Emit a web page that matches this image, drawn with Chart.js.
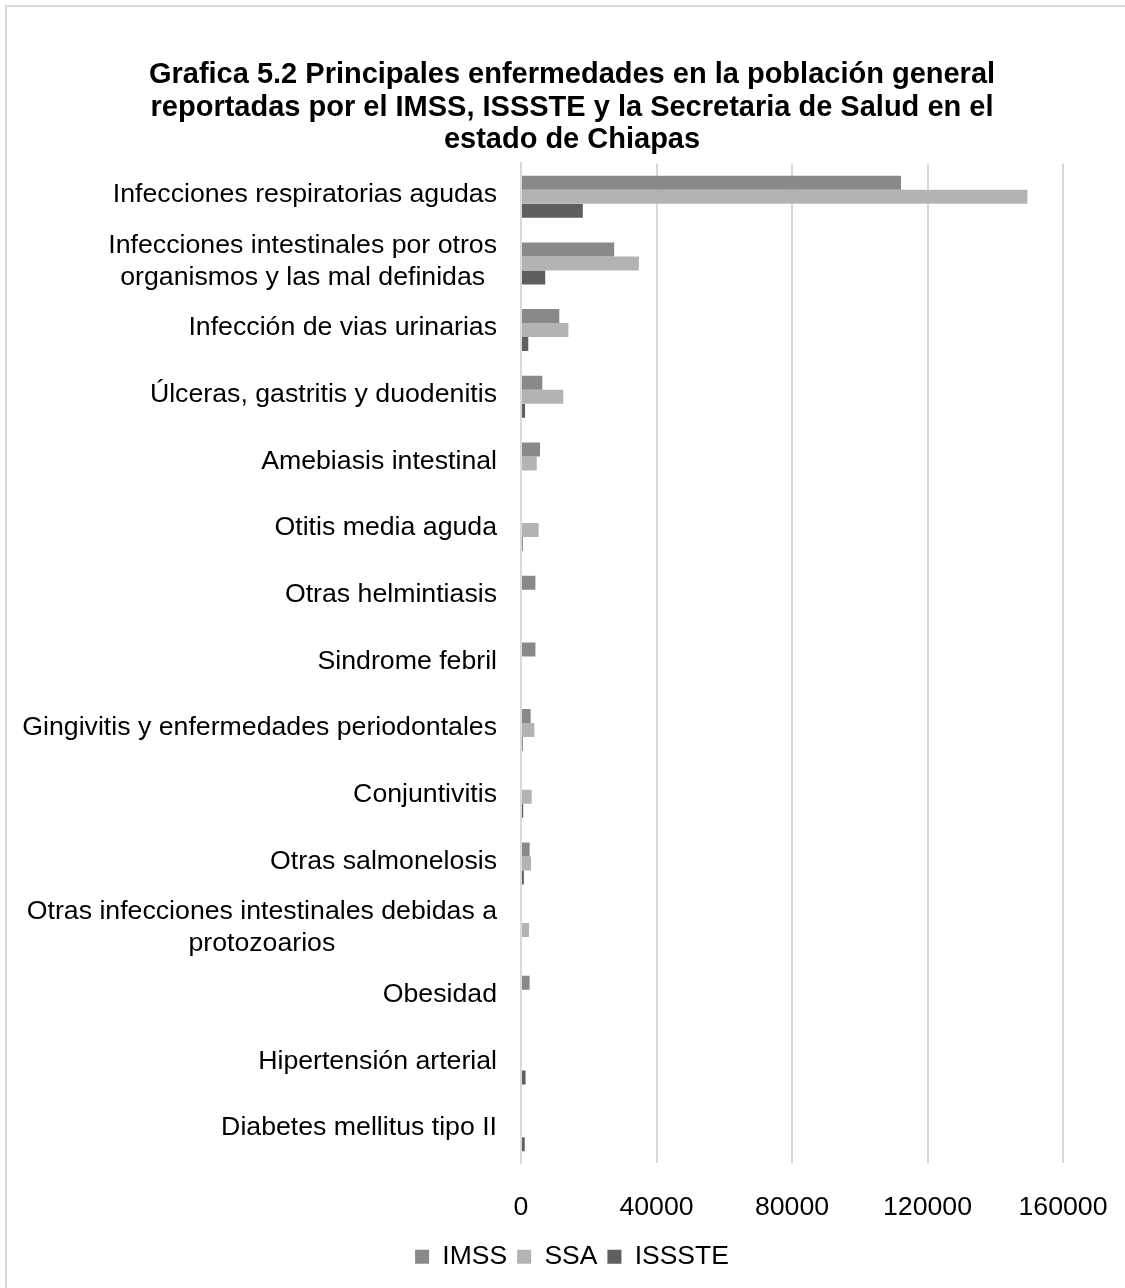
<!DOCTYPE html>
<html>
<head>
<meta charset="utf-8">
<script src="https://cdn.jsdelivr.net/npm/chart.js@4"></script>
<style>
    html, body { margin: 0; background: #fff; overflow: hidden; width: 1125px; height: 1288px; }
    #frame { position: absolute; left: 5px; top: 5px; width: 1200px; height: 1400px;
             border-top: 2px solid #d9d9d9; border-left: 2px solid #d9d9d9; }
    #wrap { position: absolute; left: 0; top: 0; width: 1125px; height: 1288px; }
</style>
</head>
<body>
<div id="frame"></div>
<div id="wrap"><canvas id="chart" width="1125" height="1288"></canvas></div>
<script>
const enfermedades = [
    'Infecciones respiratorias agudas',
    ['Infecciones intestinales por otros', 'organismos y las mal definidas'],
    'Infección de vias urinarias',
    'Úlceras, gastritis y duodenitis',
    'Amebiasis intestinal',
    'Otitis media aguda',
    'Otras helmintiasis',
    'Sindrome febril',
    'Gingivitis y enfermedades periodontales',
    'Conjuntivitis',
    'Otras salmonelosis',
    ['Otras infecciones intestinales debidas a', 'protozoarios'],
    'Obesidad',
    'Hipertensión arterial',
    'Diabetes mellitus tipo II'
];
const imss = [112200, 27500, 11300, 6300, 5600, 0, 4250, 4250, 2850, 0, 2550, 0, 2550, 0, 0];
const ssa = [149500, 34800, 14000, 12500, 4650, 5200, 0, 0, 3950, 3150, 2950, 2350, 0, 0, 0];
const issste = [18250, 7150, 2150, 1200, 0, 500, 0, 0, 500, 650, 850, 0, 0, 1350, 1100];
const xTicks = [0, 40000, 80000, 120000, 160000];

const fam = '"Liberation Sans", Arial, sans-serif';
const labelFont = '26.7px ' + fam;

// y labels drawn by hand so wrapped lines stay centred on each other
const yLabels = {
    id: 'yLabels',
    afterDraw(chart) {
        const ctx = chart.ctx;
        const y = chart.scales.y;
        ctx.save();
        ctx.font = labelFont;
        ctx.fillStyle = '#000';
        ctx.textAlign = 'center';
        ctx.textBaseline = 'middle';
        enfermedades.forEach((lab, i) => {
            const lines = Array.isArray(lab) ? lab : [lab];
            const w = Math.max(...lines.map(l => ctx.measureText(l).width));
            const cx = y.right - 24 - w / 2;
            const cy = y.getPixelForTick(i) - 2;
            lines.forEach((l, k) => {
                ctx.fillText(l, cx, cy + (k - (lines.length - 1) / 2) * 32);
            });
        });
        ctx.restore();
    }
};

const ctx = document.getElementById('chart').getContext('2d');
const chart = new Chart(ctx, {
    type: 'bar',
    data: {
        labels: enfermedades,
        datasets: [
            { label: 'IMSS', data: imss, backgroundColor: '#898989' },
            { label: 'SSA', data: ssa, backgroundColor: '#b3b3b3' },
            { label: 'ISSSTE', data: issste, backgroundColor: '#5f5f5f' }
        ]
    },
    options: {
        indexAxis: 'y',
        responsive: false,
        animation: false,
        barPercentage: 1,
        categoryPercentage: 0.63,
        layout: { padding: { left: 81, right: 62, top: 59, bottom: 8 } },
        plugins: {
            title: {
                display: true,
                text: [
                    'Grafica 5.2 Principales enfermedades en la población general',
                    'reportadas por el IMSS, ISSSTE y la Secretaria de Salud en el',
                    'estado de Chiapas'
                ],
                color: '#000',
                font: { family: fam, size: 29, weight: 'bold', lineHeight: 1.12 },
                padding: { top: 0, bottom: 7 }
            },
            legend: {
                position: 'bottom',
                labels: {
                    color: '#000',
                    boxWidth: 14,
                    boxHeight: 14,
                    padding: 10,
                    font: { family: fam, size: 26.5 }
                }
            },
            tooltip: { enabled: false }
        },
        scales: {
            x: {
                min: 0,
                max: 160000,
                afterBuildTicks: function(scale) {
                    scale.ticks = xTicks.map(v => ({ value: v }));
                },
                afterFit: function(scale) {
                    scale.height = scale.height - 18;
                    scale.paddingRight = 0;
                },
                grid: { color: '#d9d9d9', lineWidth: 2, drawTicks: false },
                border: { display: false },
                ticks: {
                    color: '#000',
                    padding: 28,
                    font: { family: fam, size: 26.7 },
                    callback: function(value) {
                        return String(value);
                    }
                }
            },
            y: {
                grid: { display: false },
                border: { color: '#d9d9d9', width: 2 },
                ticks: { display: false },
                afterFit: function(scale) {
                    scale.width = 440;
                }
            }
        }
    },
    plugins: [yLabels]
});
</script>
</body>
</html>
